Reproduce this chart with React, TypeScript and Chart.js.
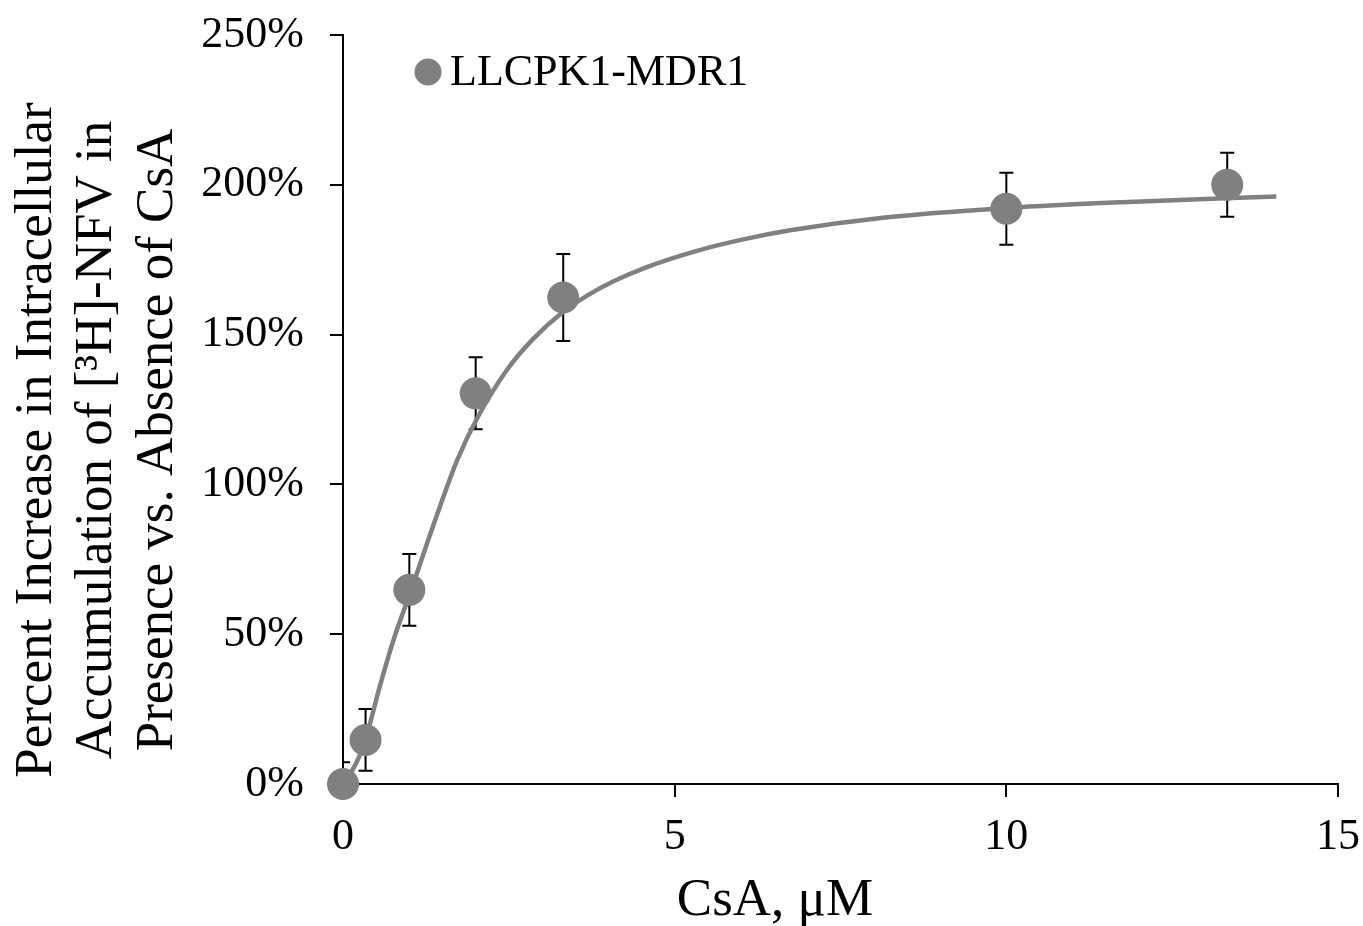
import React, { useEffect, useRef } from 'react';
import { Chart, registerables } from 'chart.js';

Chart.register(...registerables);

// Measured points (CsA concentration, µM) and percent increase, with error (±)
const concX = [0, 0.34, 1, 2, 3.32, 10, 13.33];
const pctIncrease = [0, 14.7, 64.8, 130.4, 162.4, 192, 200];
const errPct = [7.3, 10.3, 12, 12, 14.5, 12, 10.7];

// Fitted curve
const fitX = [0, 0.2, 0.34, 0.56, 0.76, 1.0, 1.42, 1.72, 2.02, 2.47, 2.86, 3.32, 3.68, 4.07, 4.6, 5.31, 6.0, 6.74, 8.17, 10.03, 11.74, 14.07];
const fitY = [0, 7, 15, 33, 48, 63, 90, 108, 122, 138.2, 148.4, 157.6, 163, 167.7, 172.7, 177.8, 181.6, 184.8, 189.1, 192.3, 194.2, 196.1];

const xTicks = [0, 5, 10, 15];
const yTicks = [0, 50, 100, 150, 200, 250];

const seriesLabel = 'LLCPK1-MDR1';
const xTitle = 'CsA, μM';
const yTitleLines = [
  'Percent Increase in Intracellular',
  'Accumulation of [³H]-NFV in',
  'Presence vs. Absence of CsA',
];

const FONT = "'Liberation Serif', 'Times New Roman', serif";
const GRAY = '#808080';

export default function App() {
  const ref = useRef<HTMLCanvasElement | null>(null);

  useEffect(() => {
    const canvas = ref.current;
    if (!canvas) return;

    const decor = {
      id: 'decor',
      beforeDatasetsDraw(chart: any) {
        const { ctx, chartArea } = chart;
        const xs = chart.scales.x;
        const ys = chart.scales.y;
        ctx.save();
        ctx.beginPath();
        ctx.rect(chartArea.left, chartArea.top, chartArea.right - chartArea.left, chartArea.bottom - chartArea.top);
        ctx.clip();
        ctx.strokeStyle = '#000';
        ctx.lineWidth = 2;
        for (let i = 0; i < concX.length; i++) {
          const px = xs.getPixelForValue(concX[i]);
          const top = ys.getPixelForValue(pctIncrease[i] + errPct[i]);
          const bot = ys.getPixelForValue(pctIncrease[i] - errPct[i]);
          ctx.beginPath();
          ctx.moveTo(px, top);
          ctx.lineTo(px, bot);
          ctx.moveTo(px - 7, top);
          ctx.lineTo(px + 7, top);
          ctx.moveTo(px - 7, bot);
          ctx.lineTo(px + 7, bot);
          ctx.stroke();
        }
        ctx.restore();
      },
      afterDraw(chart: any) {
        const { ctx } = chart;
        ctx.save();
        ctx.fillStyle = '#000';
        // x title
        ctx.font = `53px ${FONT}`;
        ctx.textAlign = 'center';
        ctx.textBaseline = 'alphabetic';
        ctx.fillText(xTitle, 775, 915);
        // y title
        const baseXs = [51, 111, 172];
        yTitleLines.forEach((line, i) => {
          ctx.save();
          ctx.translate(baseXs[i], 440);
          ctx.rotate(-Math.PI / 2);
          ctx.fillText(line, 0, 0);
          ctx.restore();
        });
        // legend
        ctx.fillStyle = GRAY;
        ctx.beginPath();
        ctx.arc(428, 72, 13.5, 0, Math.PI * 2);
        ctx.fill();
        ctx.fillStyle = '#000';
        ctx.font = `44px ${FONT}`;
        ctx.textAlign = 'left';
        ctx.fillText(seriesLabel, 450, 85);
        ctx.restore();
      },
    };

    const chart = new Chart(canvas, {
      type: 'scatter',
      data: {
        datasets: [
          {
            label: 'fit',
            data: fitX.map((x, i) => ({ x, y: fitY[i] })),
            showLine: true,
            borderColor: GRAY,
            borderWidth: 4.5,
            pointRadius: 0,
            cubicInterpolationMode: 'monotone',
            clip: false,
            order: 2,
          } as any,
          {
            label: seriesLabel,
            data: concX.map((x, i) => ({ x, y: pctIncrease[i] })),
            showLine: false,
            backgroundColor: GRAY,
            borderColor: GRAY,
            borderWidth: 0,
            pointRadius: 16,
            clip: false,
            order: 1,
          } as any,
        ],
      },
      options: {
        responsive: false,
        animation: false,
        layout: { padding: { top: 35, right: 25, left: 0, bottom: 0 } },
        plugins: {
          legend: { display: false },
          tooltip: { enabled: false },
        },
        scales: {
          x: {
            type: 'linear',
            min: 0,
            max: 15,
            afterBuildTicks: (scale: any) => {
              scale.ticks = xTicks.map((v) => ({ value: v }));
            },
            afterFit: (scale: any) => {
              scale.height = 142;
              scale.paddingLeft = 0;
              scale.paddingRight = 0;
              scale.paddingTop = 0;
              scale.paddingBottom = 0;
            },
            ticks: {
              font: { family: FONT, size: 44 },
              color: '#000',
              padding: 14,
              maxRotation: 0,
            },
            grid: {
              drawOnChartArea: false,
              drawTicks: true,
              tickLength: 13,
              color: '#000',
              lineWidth: 2,
            },
            border: { display: true, color: '#000', width: 2 },
          },
          y: {
            type: 'linear',
            min: 0,
            max: 250,
            afterBuildTicks: (scale: any) => {
              scale.ticks = yTicks.map((v) => ({ value: v }));
            },
            afterFit: (scale: any) => {
              scale.width = 343;
              scale.paddingLeft = 0;
              scale.paddingRight = 0;
              scale.paddingTop = 0;
              scale.paddingBottom = 0;
            },
            ticks: {
              font: { family: FONT, size: 44 },
              color: '#000',
              padding: 26,
              callback: (v: any) => `${v}%`,
            },
            grid: {
              drawOnChartArea: false,
              drawTicks: true,
              tickLength: 13,
              color: '#000',
              lineWidth: 2,
            },
            border: { display: true, color: '#000', width: 2 },
          },
        },
      } as any,
      plugins: [decor],
    });

    return () => chart.destroy();
  }, []);

  return (
    <div style={{ position: 'absolute', left: 0, top: 0, width: 1363, height: 926, background: '#fff' }}>
      <canvas ref={ref} width={1363} height={926} style={{ width: 1363, height: 926, display: 'block' }} />
    </div>
  );
}
